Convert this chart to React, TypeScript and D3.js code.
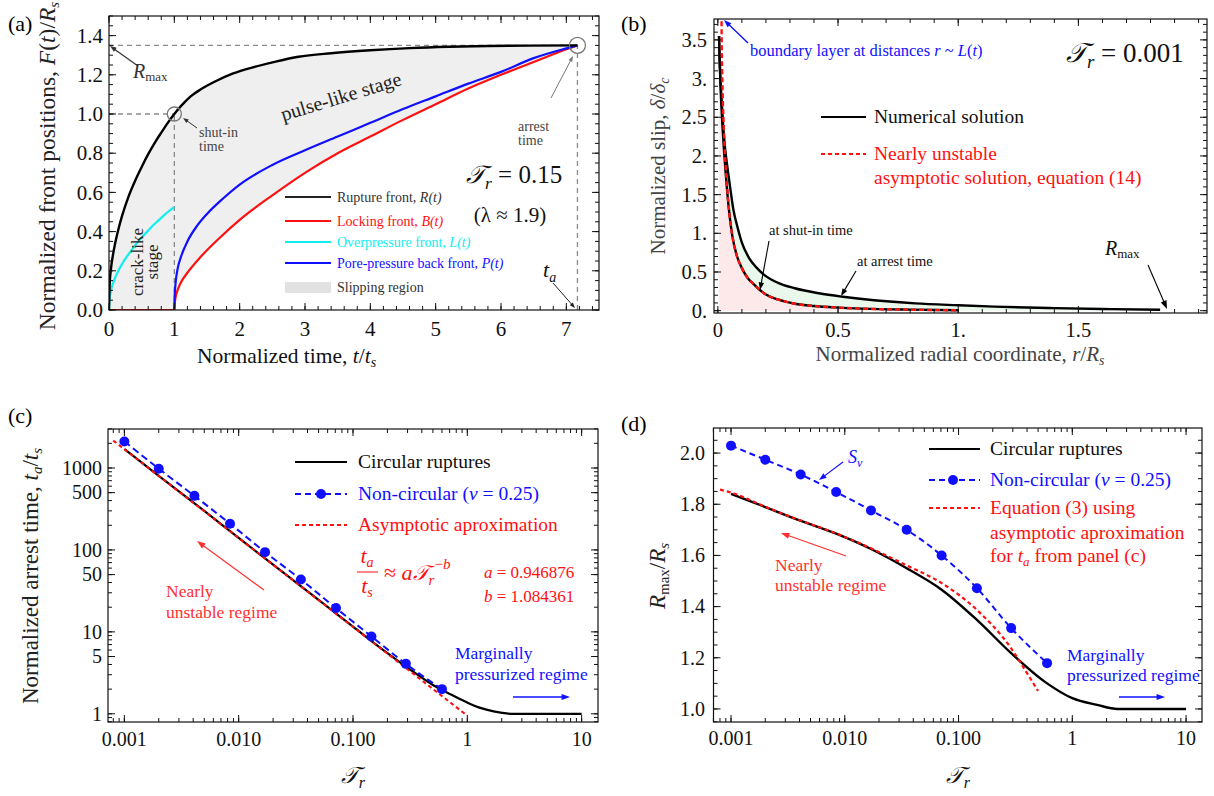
import React from 'react';
import * as d3 from 'd3';

const FONT = '"Liberation Serif", "Times New Roman", serif';
const SCRIPT_FONT = '"DejaVu Serif", "Noto Sans", serif';
const SCRIPT_T = '\u{1D4AF}';

// ---------- (a) front positions vs time ----------
const TA = 7.17;
const R_MAX = 1.35;
const rupT = [0, 0.01, 0.03, 0.06, 0.1, 0.15, 0.2, 0.3, 0.4, 0.5, 0.6, 0.7, 0.8, 0.9, 1.0, 1.1, 1.25, 1.4, 1.6, 1.9, 2.2, 2.5, 2.9, 3.4, 4.0, 4.6, 5.2, 5.8, 6.4, 7.17];
const rupF = [0, 0.13, 0.21, 0.28, 0.35, 0.42, 0.48, 0.58, 0.66, 0.73, 0.795, 0.853, 0.905, 0.955, 1.0, 1.04, 1.09, 1.125, 1.162, 1.207, 1.238, 1.263, 1.292, 1.31, 1.325, 1.336, 1.343, 1.347, 1.349, 1.35];
const ovT = [0, 0.01, 0.03, 0.06, 0.1, 0.2, 0.3, 0.4, 0.5, 0.6, 0.7, 0.8, 0.9, 1.0];
const ovF = [0, 0.06, 0.1, 0.135, 0.17, 0.235, 0.285, 0.33, 0.37, 0.405, 0.44, 0.47, 0.5, 0.525];
const lockT = [0, 1.0, 1.01, 1.03, 1.06, 1.1, 1.2, 1.4, 1.7, 2.0, 2.5, 3.0, 3.5, 4.0, 4.5, 5.0, 5.5, 6.0, 6.5, 7.0, 7.17];
const lockF = [0, 0, 0.045, 0.08, 0.11, 0.14, 0.19, 0.27, 0.37, 0.46, 0.585, 0.7, 0.8, 0.885, 0.97, 1.05, 1.13, 1.2, 1.265, 1.33, 1.35];
const backT = [1.0, 1.005, 1.02, 1.05, 1.1, 1.2, 1.35, 1.5, 1.75, 2.0, 2.5, 3.0, 3.5, 4.0, 4.5, 5.0, 5.5, 6.0, 6.5, 7.0, 7.17];
const backF = [0, 0.07, 0.14, 0.21, 0.27, 0.35, 0.43, 0.49, 0.57, 0.64, 0.74, 0.815, 0.885, 0.955, 1.025, 1.09, 1.155, 1.215, 1.285, 1.335, 1.35];

// ---------- (b) slip profiles ----------
const shutR = [0.005, 0.007, 0.01, 0.014, 0.019, 0.025, 0.032, 0.04, 0.05, 0.06, 0.08, 0.1, 0.125, 0.15, 0.17, 0.2, 0.25, 0.32, 0.4, 0.5, 0.6, 0.8, 1.0];
const shutS = [3.55, 3.3, 3.0, 2.7, 2.4, 2.1, 1.8, 1.5, 1.2, 0.97, 0.7, 0.55, 0.42, 0.34, 0.28, 0.21, 0.145, 0.09, 0.06, 0.04, 0.027, 0.013, 0.005];
const arrR = [0.005, 0.007, 0.01, 0.015, 0.022, 0.03, 0.04, 0.05, 0.065, 0.08, 0.1, 0.13, 0.16, 0.19, 0.25, 0.32, 0.42, 0.52, 0.65, 0.82, 1.0, 1.15, 1.4, 1.6, 1.84];
const arrS = [3.55, 3.3, 3.05, 2.75, 2.4, 2.1, 1.85, 1.62, 1.3, 1.1, 0.88, 0.68, 0.56, 0.47, 0.36, 0.29, 0.225, 0.18, 0.135, 0.095, 0.07, 0.052, 0.033, 0.022, 0.012];
const asymR = [0.015, 0.016, 0.018, 0.021, 0.025, 0.03, 0.036, 0.043, 0.05, 0.06, 0.08, 0.1, 0.125, 0.15, 0.17, 0.2, 0.25, 0.32, 0.4, 0.5, 0.6, 0.8, 1.0];
const asymS = [3.95, 3.5, 3.1, 2.7, 2.35, 2.0, 1.7, 1.42, 1.2, 0.97, 0.7, 0.55, 0.42, 0.34, 0.28, 0.21, 0.145, 0.09, 0.06, 0.04, 0.027, 0.013, 0.005];
const R_MAX_B = 1.84;

// ---------- (c) arrest time ----------
const A_COEF = 0.946876;
const B_COEF = 1.084361;
const asymTrRange = [0.0008, 1.0];
const circTr = [0.001, 0.002, 0.005, 0.01, 0.02, 0.05, 0.1, 0.2, 0.3, 0.5, 0.7, 1, 1.3, 1.7, 2.2, 2.5, 10];
const circTa = [1700, 800, 300, 140, 66, 24.5, 11.6, 5.5, 3.65, 2.25, 1.75, 1.37, 1.18, 1.07, 1.01, 1.0, 1.0];
const ncTr = [0.001, 0.002, 0.0041, 0.0084, 0.017, 0.035, 0.071, 0.145, 0.29, 0.6];
const ncTa = [2110, 980, 457, 209, 94, 43.6, 19.5, 8.8, 4.07, 2.0];

// ---------- (d) maximum run-out ----------
const circDTr = [0.001, 0.002, 0.004, 0.0084, 0.017, 0.035, 0.071, 0.145, 0.29, 0.6, 1.0, 1.65, 2.5, 10];
const circDR = [1.841, 1.789, 1.737, 1.685, 1.625, 1.55, 1.466, 1.348, 1.218, 1.1, 1.042, 1.016, 1.0, 1.0];
const ncR = [2.029, 1.974, 1.916, 1.848, 1.776, 1.7, 1.6, 1.472, 1.316, 1.179];
const eqTr = [0.0008, 0.001, 0.002, 0.004, 0.0084, 0.017, 0.035, 0.071, 0.145, 0.29, 0.4, 0.5];
const eqR = [1.857, 1.846, 1.79, 1.738, 1.686, 1.628, 1.561, 1.492, 1.387, 1.237, 1.14, 1.07];

// tick definitions
const aXMajor = [0, 1, 2, 3, 4, 5, 6, 7];
const aYMajor = [0, 0.2, 0.4, 0.6, 0.8, 1.0, 1.2, 1.4];
const bXMajor = [0, 0.5, 1, 1.5];
const bXLabels = ['0', '0.5', '1.', '1.5'];
const bYMajor = [0, 0.5, 1, 1.5, 2, 2.5, 3, 3.5];
const bYLabels = ['0.', '0.5', '1.', '1.5', '2.', '2.5', '3.', '3.5'];
const logXMajor = [0.001, 0.01, 0.1, 1, 10];
const logXLabels = ['0.001', '0.010', '0.100', '1', '10'];
const cYMajor = [1, 5, 10, 50, 100, 500, 1000];
const dYMajor = [1.0, 1.2, 1.4, 1.6, 1.8, 2.0];

interface TickSpec { v: number; label?: string }

function range(a: number, b: number, step: number) {
  const out: number[] = [];
  for (let k = 0; a + k * step <= b + 1e-9; k++) out.push(+(a + k * step).toFixed(6));
  return out;
}
function logMinor(lo: number, hi: number) {
  const out: number[] = [];
  for (let e = Math.floor(Math.log10(lo)); e <= Math.ceil(Math.log10(hi)); e++) {
    for (let m = 1; m <= 9; m++) {
      const v = m * Math.pow(10, e);
      if (v >= lo && v <= hi) out.push(v);
    }
  }
  return out;
}

function Frame(props: {
  x: any; y: any;
  xMajor: TickSpec[]; xMinor: number[];
  yMajor: TickSpec[]; yMinor: number[];
  fs: number; xLabelY: number; yLabelX: number; color?: string;
}) {
  const { x, y, xMajor, xMinor, yMajor, yMinor, fs, xLabelY, yLabelX } = props;
  const color = props.color || '#111';
  const [x0, x1] = x.range();
  const [y0, y1] = y.range();
  const M = 7, m = 4;
  const lines: React.ReactNode[] = [];
  const inX = (v: number) => { const p = x(v); return p >= x0 - 0.5 && p <= x1 + 0.5; };
  const inY = (v: number) => { const p = y(v); return p <= y0 + 0.5 && p >= y1 - 0.5; };
  const addX = (v: number, len: number, k: string) => {
    if (!inX(v)) return;
    const p = x(v);
    lines.push(<line key={'xb' + k} x1={p} x2={p} y1={y0} y2={y0 - len} />);
    lines.push(<line key={'xt' + k} x1={p} x2={p} y1={y1} y2={y1 + len} />);
  };
  const addY = (v: number, len: number, k: string) => {
    if (!inY(v)) return;
    const p = y(v);
    lines.push(<line key={'yl' + k} x1={x0} x2={x0 + len} y1={p} y2={p} />);
    lines.push(<line key={'yr' + k} x1={x1} x2={x1 - len} y1={p} y2={p} />);
  };
  xMinor.forEach((v, i) => addX(v, m, 'n' + i));
  xMajor.forEach((t, i) => addX(t.v, M, 'M' + i));
  yMinor.forEach((v, i) => addY(v, m, 'n' + i));
  yMajor.forEach((t, i) => addY(t.v, M, 'M' + i));
  return (
    <g>
      <g stroke={color} strokeWidth={1}>{lines}</g>
      <rect x={x0} y={y1} width={x1 - x0} height={y0 - y1} fill="none" stroke={color} strokeWidth={1.2} />
      <g fontFamily={FONT} fontSize={fs} fill="#111">
        {xMajor.filter(t => t.label !== undefined && inX(t.v)).map((t, i) => (
          <text key={'xl' + i} x={x(t.v)} y={xLabelY} textAnchor="middle">{t.label}</text>
        ))}
        {yMajor.filter(t => t.label !== undefined && inY(t.v)).map((t, i) => (
          <text key={'yl' + i} x={yLabelX} y={y(t.v) + fs * 0.34} textAnchor="end">{t.label}</text>
        ))}
      </g>
    </g>
  );
}

function Arrow({ x1, y1, x2, y2, color, w = 1.2, head = 7 }: any) {
  const a = Math.atan2(y2 - y1, x2 - x1);
  const hx1 = x2 - head * Math.cos(a - 0.35), hy1 = y2 - head * Math.sin(a - 0.35);
  const hx2 = x2 - head * Math.cos(a + 0.35), hy2 = y2 - head * Math.sin(a + 0.35);
  return (
    <g>
      <line x1={x1} y1={y1} x2={x2 - 0.6 * head * Math.cos(a)} y2={y2 - 0.6 * head * Math.sin(a)} stroke={color} strokeWidth={w} />
      <path d={`M${x2},${y2}L${hx1},${hy1}L${hx2},${hy2}Z`} fill={color} />
    </g>
  );
}

function TrSym({ x, y, fs, color = '#111', anchor = 'start', suffix = '' }: any) {
  return (
    <text x={x} y={y} fontFamily={FONT} fontSize={fs} fill={color} textAnchor={anchor}>
      <tspan fontFamily={SCRIPT_FONT} fontStyle="italic">{SCRIPT_T}</tspan>
      <tspan fontStyle="italic" fontSize={fs * 0.7} dy={fs * 0.22}>r</tspan>
      {suffix ? <tspan dy={-fs * 0.22}>{suffix}</tspan> : null}
    </text>
  );
}

function zip(a: number[], b: number[]) { return a.map((v, i) => [v, b[i]] as [number, number]); }

export default function App() {
  // ---- panel (a)
  const ax = d3.scaleLinear([0, 7.5], [109, 599]);
  const ay = d3.scaleLinear([0, 1.5], [310, 16]);
  const lineA = d3.line<[number, number]>().x(d => ax(d[0])).y(d => ay(d[1])).curve(d3.curveMonotoneX);
  const rup = zip(rupT, rupF);
  const lock = zip(lockT, lockF);
  const slipPoly = [...rup, ...lock.slice().reverse()];
  const slipPath = 'M' + slipPoly.map(d => `${ax(d[0])},${ay(d[1])}`).join('L') + 'Z';

  // ---- panel (b)
  const bx = d3.scaleLinear([-0.016, 2.035], [714, 1207]);
  const by = d3.scaleLinear([-0.03, 3.77], [313, 19]);
  const lineB = d3.line<[number, number]>().x(d => bx(d[0])).y(d => by(d[1])).curve(d3.curveMonotoneX);
  const shut = zip(shutR, shutS);
  const arr = zip(arrR, arrS);
  const asym = zip(asymR, asymS);
  const pinkPoly = [[shutR[0], 0] as [number, number], ...shut, [1.0, 0] as [number, number]];
  const greenPoly = [...arr, [R_MAX_B, 0] as [number, number], [1.0, 0] as [number, number], ...shut.slice().reverse()];
  const polyB = (p: [number, number][]) => 'M' + p.map(d => `${bx(d[0])},${by(d[1])}`).join('L') + 'Z';

  // ---- panel (c)
  const cx = d3.scaleLog([Math.pow(10, -3.143), Math.pow(10, 1.143)], [108, 598]);
  const cy = d3.scaleLog([Math.pow(10, -0.1), Math.pow(10, 3.476)], [722, 429]);
  const lineC = d3.line<[number, number]>().x(d => cx(d[0])).y(d => cy(d[1])).curve(d3.curveMonotoneX);
  const asymC = asymTrRange.map(t => [t, A_COEF * Math.pow(t, -B_COEF)] as [number, number]);

  // ---- panel (d)
  const dx = d3.scaleLog([Math.pow(10, -3.154), Math.pow(10, 1.14)], [713.5, 1202]);
  const dy = d3.scaleLinear([0.949, 2.098], [722, 428]);
  const lineD = d3.line<[number, number]>().x(d => dx(d[0])).y(d => dy(d[1])).curve(d3.curveMonotoneX);

  const fsTick = 20;
  const gray = '#8a8a8a';

  return (
    <svg width={1214} height={796} style={{ position: 'absolute', left: 0, top: 0, background: '#fff' }}>
      <defs>
        <clipPath id="clipA"><rect x={109} y={16} width={490} height={294} /></clipPath>
        <clipPath id="clipB"><rect x={714} y={19} width={493} height={294} /></clipPath>
        <clipPath id="clipC"><rect x={108} y={429} width={490} height={293} /></clipPath>
        <clipPath id="clipD"><rect x={713.5} y={428} width={488.5} height={294} /></clipPath>
      </defs>

      {/* ================= (a) ================= */}
      <g clipPath="url(#clipA)">
        <path d={slipPath} fill="#efefef" />
        <g stroke={gray} strokeWidth={1.3} strokeDasharray="5,4" fill="none">
          <line x1={ax(0)} x2={ax(1)} y1={ay(1)} y2={ay(1)} />
          <line x1={ax(1)} x2={ax(1)} y1={ay(0)} y2={ay(1)} />
          <line x1={ax(0)} x2={ax(TA)} y1={ay(R_MAX)} y2={ay(R_MAX)} />
          <line x1={ax(TA)} x2={ax(TA)} y1={ay(0)} y2={ay(R_MAX)} />
        </g>
        <path d={lineA(lock) || ''} fill="none" stroke="#ff1010" strokeWidth={2.2} />
        <path d={lineA(zip(backT, backF)) || ''} fill="none" stroke="#1010ff" strokeWidth={2.2} />
        <path d={lineA(zip(ovT, ovF)) || ''} fill="none" stroke="#10eeee" strokeWidth={2.2} />
        <path d={lineA(rup) || ''} fill="none" stroke="#000" strokeWidth={2.4} />
        <circle cx={ax(1)} cy={ay(1)} r={7} fill="none" stroke="#777" strokeWidth={1.3} />
        <circle cx={ax(TA)} cy={ay(R_MAX)} r={8} fill="none" stroke="#777" strokeWidth={1.3} />
      </g>
      <Frame x={ax} y={ay}
        xMajor={aXMajor.map(v => ({ v, label: String(v) }))} xMinor={range(0, 7.4, 0.2)}
        yMajor={aYMajor.map(v => ({ v, label: v.toFixed(1) }))} yMinor={range(0, 1.5, 0.05)}
        fs={21} xLabelY={336} yLabelX={103} />
      <text x={8} y={31} fontFamily={FONT} fontSize={22}>(a)</text>
      <text transform="translate(55,166) rotate(-90)" textAnchor="middle" fontFamily={FONT} fontSize={23.5} fill="#222">
        Normalized front positions, <tspan fontStyle="italic">F</tspan>(<tspan fontStyle="italic">t</tspan>)/<tspan fontStyle="italic">R</tspan><tspan fontStyle="italic" fontSize={15} dy={4}>s</tspan>
      </text>
      <text x={197} y={363} fontFamily={FONT} fontSize={21.5} fill="#111">
        Normalized time, <tspan fontStyle="italic">t</tspan>/<tspan fontStyle="italic">t</tspan><tspan fontStyle="italic" fontSize={14} dy={4}>s</tspan>
      </text>
      {/* annotations (a) */}
      <Arrow x1={138} y1={66} x2={110} y2={46} color="#333" w={1.2} head={7} />
      <text x={133} y={78} fontFamily={FONT} fontSize={20} fill="#333">
        <tspan fontStyle="italic">R</tspan><tspan fontSize={13} dy={3}>max</tspan>
      </text>
      <Arrow x1={197} y1={128} x2={183} y2={118} color="#333" w={1} head={6} />
      <text fontFamily={FONT} fontSize={14} fill="#444">
        <tspan x={199} y={137}>shut-in</tspan>
        <tspan x={199} y={151}>time</tspan>
      </text>
      <text transform="translate(343,103) rotate(-17)" textAnchor="middle" fontFamily={FONT} fontSize={20} fill="#222">pulse-like stage</text>
      <text transform="translate(143,262) rotate(-90)" textAnchor="middle" fontFamily={FONT} fontSize={17} fill="#222">
        <tspan x={0} dy={0}>crack-like</tspan>
        <tspan x={0} dy={15}>stage</tspan>
      </text>
      <Arrow x1={551} y1={98} x2={573} y2={56} color="#777" w={1} head={6} />
      <text fontFamily={FONT} fontSize={14} fill="#444">
        <tspan x={518} y={131}>arrest</tspan>
        <tspan x={518} y={145}>time</tspan>
      </text>
      <TrSym x={466} y={183} fs={25} suffix=" = 0.15" />
      <text x={510} y={222} textAnchor="middle" fontFamily={FONT} fontSize={21} fill="#111">(λ ≈ 1.9)</text>
      <text x={543} y={277} fontFamily={FONT} fontSize={22} fill="#111" fontStyle="italic">
        t<tspan fontSize={14} dy={5}>a</tspan>
      </text>
      <Arrow x1={553} y1={283} x2={575} y2={308} color="#222" w={1} head={6} />
      {/* legend (a) */}
      <g fontFamily={FONT} fontSize={14}>
        <line x1={285} x2={331} y1={197} y2={197} stroke="#222" strokeWidth={2.2} />
        <text x={337} y={202} fill="#333">Rupture front, <tspan fontStyle="italic">R(t)</tspan></text>
        <line x1={285} x2={331} y1={221} y2={221} stroke="#ff1010" strokeWidth={2.2} />
        <text x={337} y={226} fill="#ff1010">Locking front, <tspan fontStyle="italic">B(t)</tspan></text>
        <line x1={285} x2={331} y1={242} y2={242} stroke="#10eeee" strokeWidth={2.2} />
        <text x={337} y={247} fill="#10eeee">Overpressure front, <tspan fontStyle="italic">L(t)</tspan></text>
        <line x1={285} x2={331} y1={263} y2={263} stroke="#1010ff" strokeWidth={2.2} />
        <text x={337} y={268} fill="#1010ff">Pore-pressure back front, <tspan fontStyle="italic">P(t)</tspan></text>
        <rect x={285} y={282} width={46} height={11} fill="#e2e2e2" />
        <text x={337} y={292} fill="#333">Slipping region</text>
      </g>

      {/* ================= (b) ================= */}
      <g clipPath="url(#clipB)">
        <path d={polyB(pinkPoly)} fill="#fde9e9" />
        <path d={polyB(greenPoly)} fill="#e9f8ea" />
        <path d={lineB(shut) || ''} fill="none" stroke="#000" strokeWidth={2.4} />
        <path d={lineB(arr) || ''} fill="none" stroke="#000" strokeWidth={2.4} />
        <path d={lineB(asym) || ''} fill="none" stroke="#ff1010" strokeWidth={2.4} strokeDasharray="5,3" />
      </g>
      <Frame x={bx} y={by}
        xMajor={bXMajor.map((v, i) => ({ v, label: bXLabels[i] }))} xMinor={range(0, 2.0, 0.1)}
        yMajor={bYMajor.map((v, i) => ({ v, label: bYLabels[i] }))} yMinor={range(0, 3.7, 0.1)}
        fs={20.5} xLabelY={337} yLabelX={707} />
      <text x={621} y={31} fontFamily={FONT} fontSize={22}>(b)</text>
      <text transform="translate(665,166) rotate(-90)" textAnchor="middle" fontFamily={FONT} fontSize={21} fill="#444">
        Normalized slip, <tspan fontStyle="italic">δ</tspan>/<tspan fontStyle="italic">δ</tspan><tspan fontStyle="italic" fontSize={14} dy={4}>c</tspan>
      </text>
      <text x={960} y={361} textAnchor="middle" fontFamily={FONT} fontSize={21} fill="#444">
        Normalized radial coordinate, <tspan fontStyle="italic">r</tspan>/<tspan fontStyle="italic">R</tspan><tspan fontStyle="italic" fontSize={14} dy={4}>s</tspan>
      </text>
      <Arrow x1={748} y1={43} x2={724} y2={20} color="#1010ff" w={1.4} head={8} />
      <text x={750} y={56} fontFamily={FONT} fontSize={16.5} fill="#1010ff">
        boundary layer at distances  <tspan fontStyle="italic">r</tspan> ~ <tspan fontStyle="italic">L</tspan>(<tspan fontStyle="italic">t</tspan>)
      </text>
      <TrSym x={1066} y={62} fs={27} suffix=" = 0.001" />
      <g fontFamily={FONT} fontSize={19.5}>
        <line x1={821} x2={866} y1={117} y2={117} stroke="#000" strokeWidth={2.2} />
        <text x={874} y={123} fill="#111">Numerical solution</text>
        <line x1={821} x2={866} y1={154} y2={154} stroke="#ff1010" strokeWidth={2.2} strokeDasharray="4,3" />
        <text x={874} y={160} fill="#ff1010">Nearly unstable</text>
        <text x={874} y={184} fill="#ff1010">asymptotic solution, equation (14)</text>
      </g>
      <g fontFamily={FONT} fontSize={14.5} fill="#111">
        <text x={769} y={235}>at shut-in time</text>
        <text x={857} y={266}>at arrest time</text>
      </g>
      <Arrow x1={769} y1={241} x2={760} y2={290} color="#000" w={1.1} head={8} />
      <Arrow x1={856} y1={271} x2={841} y2={296} color="#000" w={1.1} head={8} />
      <text x={1105} y={255} fontFamily={FONT} fontSize={20} fill="#111">
        <tspan fontStyle="italic">R</tspan><tspan fontSize={13} dy={3}>max</tspan>
      </text>
      <Arrow x1={1148} y1={265} x2={1167} y2={309} color="#000" w={1.1} head={9} />

      {/* ================= (c) ================= */}
      <g clipPath="url(#clipC)">
        <path d={lineC(zip(circTr, circTa)) || ''} fill="none" stroke="#000" strokeWidth={2.2} />
        <path d={lineC(asymC) || ''} fill="none" stroke="#ff1010" strokeWidth={2} strokeDasharray="4,3" />
        <path d={lineC(zip(ncTr, ncTa)) || ''} fill="none" stroke="#1010ff" strokeWidth={2} strokeDasharray="7,4" />
        {ncTr.map((t, i) => <circle key={i} cx={cx(t)} cy={cy(ncTa[i])} r={5} fill="#1010ff" />)}
      </g>
      <Frame x={cx} y={cy}
        xMajor={logXMajor.map((v, i) => ({ v, label: logXLabels[i] }))} xMinor={logMinor(0.0005, 20)}
        yMajor={cYMajor.map(v => ({ v, label: String(v) }))} yMinor={logMinor(0.8, 4000)}
        fs={fsTick} xLabelY={746} yLabelX={102} />
      <text x={8} y={423} fontFamily={FONT} fontSize={22}>(c)</text>
      <text transform="translate(38,576) rotate(-90)" textAnchor="middle" fontFamily={FONT} fontSize={23} fill="#222">
        Normalized arrest time, <tspan fontStyle="italic">t</tspan><tspan fontStyle="italic" fontSize={15} dy={4}>a</tspan><tspan dy={-4}>/</tspan><tspan fontStyle="italic">t</tspan><tspan fontStyle="italic" fontSize={15} dy={4}>s</tspan>
      </text>
      <TrSym x={353} y={783} fs={23} anchor="middle" />
      <g fontFamily={FONT} fontSize={19.5}>
        <line x1={295} x2={347} y1={462} y2={462} stroke="#000" strokeWidth={2.2} />
        <text x={358} y={468} fill="#111">Circular ruptures</text>
        <line x1={295} x2={347} y1={494} y2={494} stroke="#1010ff" strokeWidth={2} strokeDasharray="6,4" />
        <circle cx={321} cy={494} r={5} fill="#1010ff" />
        <text x={358} y={500} fill="#1010ff">Non-circular (<tspan fontStyle="italic">ν</tspan> = 0.25)</text>
        <line x1={295} x2={347} y1={525} y2={525} stroke="#ff1010" strokeWidth={2} strokeDasharray="4,3" />
        <text x={358} y={531} fill="#ff1010">Asymptotic aproximation</text>
      </g>
      <g fontFamily={FONT} fill="#ff1010">
        <text x={367} y={563} fontSize={22} textAnchor="middle" fontStyle="italic">t<tspan fontSize={14} dy={4}>a</tspan></text>
        <line x1={357} x2={378} y1={572} y2={572} stroke="#ff1010" strokeWidth={1} />
        <text x={367} y={593} fontSize={22} textAnchor="middle" fontStyle="italic">t<tspan fontSize={14} dy={4}>s</tspan></text>
        <text x={384} y={580} fontSize={22}>
          {'≈ '}<tspan fontStyle="italic">a</tspan><tspan fontFamily={SCRIPT_FONT} fontStyle="italic" fontSize={21}>{SCRIPT_T}</tspan><tspan fontStyle="italic" fontSize={15} dy={5}>r</tspan><tspan fontSize={15} dy={-16}>−</tspan><tspan fontStyle="italic" fontSize={15}>b</tspan>
        </text>
      </g>
      <g fontFamily={FONT} fontSize={17} fill="#ff1010">
        <text x={484} y={578}><tspan fontStyle="italic">a</tspan> = {A_COEF.toFixed(6)}</text>
        <text x={484} y={602}><tspan fontStyle="italic">b</tspan> = {B_COEF.toFixed(6)}</text>
      </g>
      <Arrow x1={264} y1={590} x2={197} y2={541} color="#ff3030" w={1.2} head={9} />
      <g fontFamily={FONT} fontSize={17.5} fill="#ff3030">
        <text x={166} y={597}>Nearly</text>
        <text x={166} y={618}>unstable regime</text>
      </g>
      <g fontFamily={FONT} fontSize={17.5} fill="#1010ff">
        <text x={455} y={659}>Marginally</text>
        <text x={455} y={680}>pressurized regime</text>
      </g>
      <Arrow x1={513} y1={697} x2={570} y2={697} color="#1010ff" w={1.4} head={9} />

      {/* ================= (d) ================= */}
      <g clipPath="url(#clipD)">
        <path d={lineD(zip(circDTr, circDR)) || ''} fill="none" stroke="#000" strokeWidth={2.4} />
        <path d={lineD(zip(eqTr, eqR)) || ''} fill="none" stroke="#ff1010" strokeWidth={2.2} strokeDasharray="4,3" />
        <path d={lineD(zip(ncTr, ncR)) || ''} fill="none" stroke="#1010ff" strokeWidth={2} strokeDasharray="6,4" />
        {ncTr.map((t, i) => <circle key={i} cx={dx(t)} cy={dy(ncR[i])} r={5} fill="#1010ff" />)}
      </g>
      <Frame x={dx} y={dy}
        xMajor={logXMajor.map((v, i) => ({ v, label: logXLabels[i] }))} xMinor={logMinor(0.0005, 20)}
        yMajor={dYMajor.map(v => ({ v, label: v.toFixed(1) }))} yMinor={range(0.95, 2.1, 0.05)}
        fs={fsTick} xLabelY={745} yLabelX={705} />
      <text x={621} y={431} fontFamily={FONT} fontSize={22}>(d)</text>
      <text transform="translate(665,576) rotate(-90)" textAnchor="middle" fontFamily={FONT} fontSize={23} fill="#222">
        <tspan fontStyle="italic">R</tspan><tspan fontSize={15} dy={4}>max</tspan><tspan dy={-4}>/</tspan><tspan fontStyle="italic">R</tspan><tspan fontStyle="italic" fontSize={15} dy={4}>s</tspan>
      </text>
      <TrSym x={958} y={783} fs={23} anchor="middle" />
      <g fontFamily={FONT} fontSize={19.5}>
        <line x1={929} x2={980} y1={449} y2={449} stroke="#000" strokeWidth={2.2} />
        <text x={990} y={455} fill="#111">Circular ruptures</text>
        <line x1={929} x2={980} y1={480} y2={480} stroke="#1010ff" strokeWidth={2} strokeDasharray="6,4" />
        <circle cx={953} cy={480} r={5} fill="#1010ff" />
        <text x={990} y={486} fill="#1010ff">Non-circular (<tspan fontStyle="italic">ν</tspan> = 0.25)</text>
        <line x1={929} x2={980} y1={508} y2={508} stroke="#ff1010" strokeWidth={2} strokeDasharray="4,3" />
        <text x={990} y={514} fill="#ff1010">Equation (3) using</text>
        <text x={990} y={539} fill="#ff1010">asymptotic aproximation</text>
        <text x={990} y={562} fill="#ff1010">for <tspan fontStyle="italic">t</tspan><tspan fontStyle="italic" fontSize={13} dy={4}>a</tspan><tspan dy={-4}> from panel (c)</tspan></text>
      </g>
      <text x={848} y={463} fontFamily={FONT} fontSize={18} fill="#1010ff" fontStyle="italic">
        S<tspan fontSize={12} dy={4}>ν</tspan>
      </text>
      <Arrow x1={843} y1={462} x2={819} y2={480} color="#1010ff" w={1.2} head={8} />
      <Arrow x1={846} y1={556} x2={781} y2={533} color="#ff3030" w={1.2} head={9} />
      <g fontFamily={FONT} fontSize={17.5} fill="#ff3030">
        <text x={775} y={571}>Nearly</text>
        <text x={775} y={591}>unstable regime</text>
      </g>
      <g fontFamily={FONT} fontSize={17.5} fill="#1010ff">
        <text x={1067} y={661}>Marginally</text>
        <text x={1067} y={681}>pressurized regime</text>
      </g>
      <Arrow x1={1119} y1={697} x2={1165} y2={697} color="#1010ff" w={1.4} head={9} />
    </svg>
  );
}
